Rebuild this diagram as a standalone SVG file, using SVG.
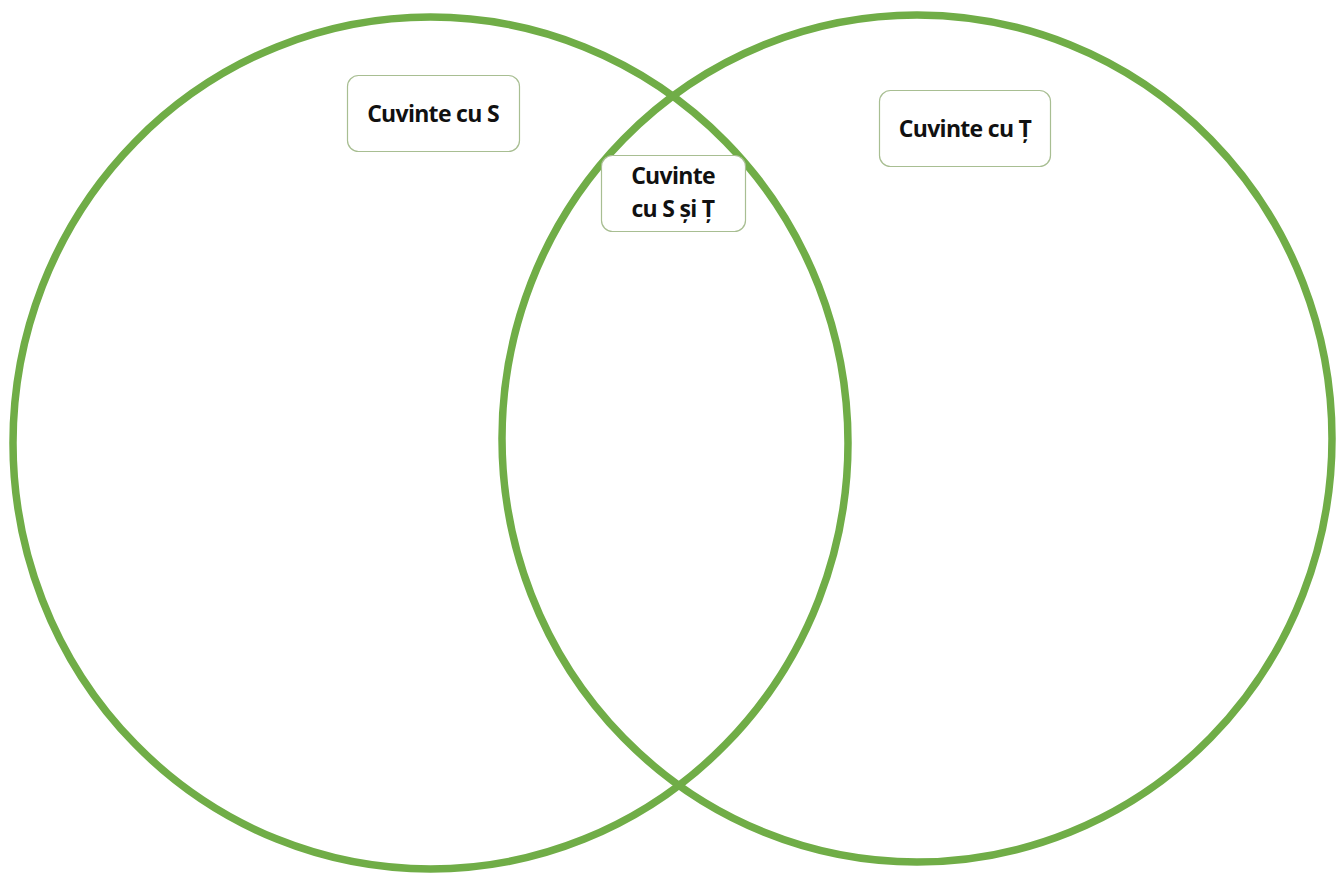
<svg xmlns="http://www.w3.org/2000/svg" width="1336" height="873" viewBox="0 0 1336 873">
<style>
.ring{fill:none;stroke:#70AD47;stroke-width:7.5}
.box{fill:#ffffff;stroke:#A8BE92;stroke-width:1.2}
.lbl{font-family:"Open Sans","Noto Sans",sans-serif;font-weight:bold;font-size:23px;letter-spacing:-0.7px;fill:#111;text-anchor:middle}
</style>
<rect width="1336" height="873" fill="#ffffff"/>
<g id="connectors"></g>
<g id="set-s"><ellipse class="ring" cx="430.5" cy="443" rx="417.5" ry="426"/></g>
<g id="set-t"><ellipse class="ring" cx="917" cy="438.5" rx="415" ry="423.5"/></g>
<g id="label-s">
<rect class="box" x="347.5" y="75.5" width="172" height="76" rx="11"/>
<text class="lbl" x="433" y="122">Cuvinte cu S</text>
</g>
<g id="label-t">
<rect class="box" x="879.5" y="90.5" width="171" height="76" rx="11"/>
<text class="lbl" x="965" y="137">Cuvinte cu Ț</text>
</g>
<g id="label-st">
<rect class="box" x="601.5" y="155.5" width="144" height="76" rx="11"/>
<text class="lbl" x="673" y="184">Cuvinte</text>
<text class="lbl" x="673" y="217">cu S și Ț</text>
</g>
</svg>
